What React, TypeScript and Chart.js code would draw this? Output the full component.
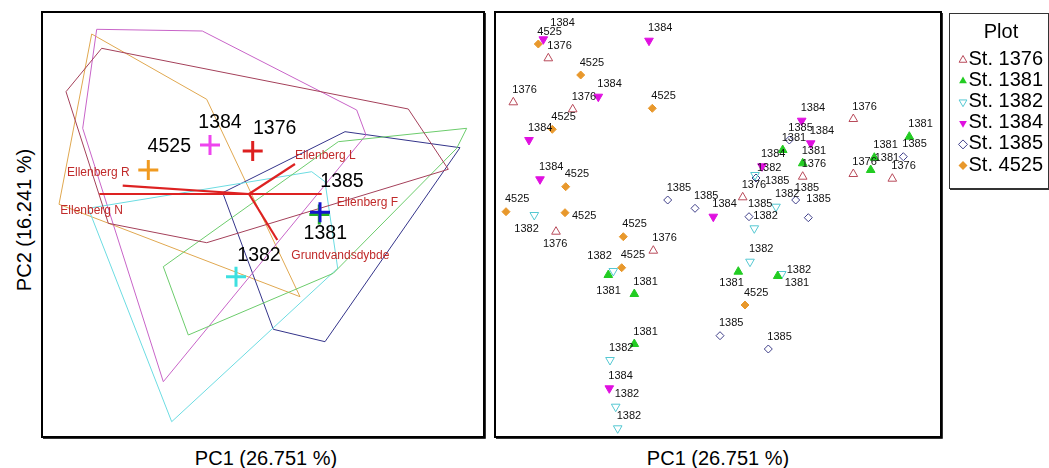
import React, { useEffect, useRef } from "react";
import { Chart, registerables } from "chart.js";
Chart.register(...registerables);

const FONT = "'Liberation Sans', Arial, Helvetica, sans-serif";

const plotNames = ["1376", "1381", "1382", "1384", "1385", "4525"];

// ---- Left panel: convex hulls of each plot (PC1, PC2) ----
const hull1376 = [[-1.473, 1.457], [1.593, 0.85], [1.993, 0.247], [-0.423, -0.487], [-1.407, -0.293], [-1.83, 1.023]];
const hull1381 = [[2.177, 0.657], [0.893, 0.523], [-0.857, -0.727], [-0.607, -1.41], [0.843, -0.793], [2.077, 0.457]];
const hull1382 = [[0.627, 0.223], [0.76, 0.123], [0.887, -0.743], [-0.773, -2.277], [-1.607, -0.143]];
const hull1384 = [[-1.523, 1.647], [-0.467, 1.63], [1.077, 0.84], [1.17, 0.59], [-0.857, -1.877], [-1.663, 0.657]];
const hull1385 = [[0.96, 0.623], [2.11, 0.463], [0.76, -1.477], [0.243, -1.353], [-0.263, 0.013]];
const hull4525 = [[-1.573, 1.6], [-0.423, 0.947], [0.51, -1.027], [-1.9, -0.103]];

// plot centroids
const centroidX = [0.037, 0.703, -0.13, -0.39, 0.71, -1.007];
const centroidY = [0.43, -0.205, -0.827, 0.49, -0.183, 0.24];

// environmental vectors
const envNames = ["Ellenberg L", "Ellenberg R", "Ellenberg N", "Ellenberg F", "Grundvandsdybde"];
const envX = [0.46, -1.263, -1.497, 0.727, 0.283];
const envY = [0.3, 0.083, 0, 0, -0.46];

// ---- Right panel: sample scores ----
const st1376 = [[-1.697, 1.657], [-2.047, 1.217], [-1.453, 1.147], [0.247, 0.267], [-1.62, -0.077], [-0.647, -0.267], [1.353, 1.05], [0.847, 0.473], [1.353, 0.5], [1.743, 0.453]];
const st1381 = [[0.647, 0.74], [0.847, 0.607], [1.913, 0.873], [1.563, 0.663], [1.527, 0.54], [-1.097, -0.51], [-0.837, -0.7], [0.203, -0.477], [0.597, -0.52], [-0.837, -1.2]];
const st1382 = [[-1.837, 0.09], [0.37, 0.49], [0.58, 0.173], [0.363, -0.043], [-1.047, -0.47], [0.32, -0.377], [0.637, -0.5], [-1.08, -1.36], [-1.023, -1.827], [-1.003, -2.043]];
const st1384 = [[-1.747, 1.847], [-0.69, 1.833], [-1.197, 1.273], [-1.89, 0.84], [-1.78, 0.447], [-0.047, 0.073], [0.837, 1.033], [0.927, 0.807], [0.44, 0.577], [-1.087, -1.643]];
const st1385 = [[-0.503, 0.24], [-0.23, 0.157], [0.31, 0.073], [0.38, 0.46], [0.713, 0.84], [1.853, 0.673], [0.777, 0.24], [0.903, 0.063], [0.02, -1.117], [0.503, -1.25]];
const st4525 = [[-1.797, 1.8], [-1.373, 1.49], [-0.657, 1.157], [-1.657, 0.947], [-1.523, 0.373], [-2.12, 0.123], [-1.53, 0.113], [-0.947, -0.127], [-0.963, -0.437], [0.27, -0.81]];

const hulls = [hull1376, hull1381, hull1382, hull1384, hull1385, hull4525];
const samples = [st1376, st1381, st1382, st1384, st1385, st4525];

// ---- styles ----
const hullColors = ["#a4405a", "#6ccc6c", "#6cdce2", "#c864c8", "#34348a", "#e0a850"];
const crossColors = ["#dd2020", "#22b022", "#3ee0e0", "#ee44ee", "#1414cc", "#f09a20"];
const markerColors = ["#b84a5a", "#22cc22", "#55c8d2", "#e010e0", "#40408a", "#e8982c"];
const markerFilled = [false, true, false, true, false, true];
const markerStyles = ["triangle", "triangle", "triangle", "triangle", "rectRot", "rectRot"];
const markerRotation = [0, 0, 180, 180, 0, 0];
const markerRadius = [5, 5, 5, 5, 4, 4];
const arrowColor = "#dd2222";
const envLabelColor = "#c02a2a";

// label placement (pixels) for centroid labels, env labels and sample labels
const centroidLabelOffsets = [[22, -22], [6, 19], [23, -21], [10, -22], [22, -31], [21, -23]];
const envLabelOffsets = [[0, -8, "left"], [7, -13, "right"], [-39, 17, "left"], [15, 9, "left"], [14, 16, "left"]];
const sampleLabelOffsets: Record<string, number[]> = {
  "1382:0": [-20, 14], "1376:4": [-13, 12.5], "1382:4": [-26, -15], "1381:5": [-12, 16],
  "1381:7": [-19, 11], "4525:6": [7, 3], "1385:3": [9, 3], "1382:1": [2, -7],
  "1382:6": [5, -4], "1381:8": [7, 7], "1384:0": [7, -16.5], "1381:4": [4, -12], "1385:7": [-2, -19],
};

const borderPlugin = {
  id: "panelBorder",
  afterDraw(chart: any) {
    const { left, top, right, bottom } = chart.chartArea;
    const ctx = chart.ctx;
    ctx.save();
    ctx.strokeStyle = "#000";
    ctx.lineWidth = 2;
    ctx.strokeRect(left, top, right - left, bottom - top);
    ctx.strokeStyle = "#333";
    ctx.lineWidth = 1;
    ctx.beginPath();
    ctx.moveTo(right + 1.5, top + 1);
    ctx.lineTo(right + 1.5, bottom + 1.5);
    ctx.lineTo(left + 1, bottom + 1.5);
    ctx.stroke();
    ctx.restore();
  },
};

function drawMarker(ctx: CanvasRenderingContext2D, i: number, x: number, y: number, r: number) {
  ctx.beginPath();
  if (markerStyles[i] === "triangle") {
    const s = markerRotation[i] === 180 ? -1 : 1;
    for (let k = 0; k < 3; k++) {
      const a = (k * 2 * Math.PI) / 3;
      const px = x + Math.sin(a) * r;
      const py = y - s * Math.cos(a) * r;
      if (k === 0) ctx.moveTo(px, py);
      else ctx.lineTo(px, py);
    }
  } else {
    ctx.moveTo(x, y - r);
    ctx.lineTo(x + r, y);
    ctx.lineTo(x, y + r);
    ctx.lineTo(x - r, y);
  }
  ctx.closePath();
  if (markerFilled[i]) {
    ctx.fillStyle = markerColors[i];
    ctx.fill();
  } else {
    ctx.strokeStyle = markerColors[i];
    ctx.lineWidth = 1;
    ctx.stroke();
  }
}

const leftLabelPlugin = {
  id: "leftLabels",
  afterDatasetsDraw(chart: any) {
    const ctx = chart.ctx;
    const sx = chart.scales.x;
    const sy = chart.scales.y;
    ctx.save();
    ctx.textBaseline = "middle";
    ctx.font = `12px ${FONT}`;
    ctx.fillStyle = envLabelColor;
    envNames.forEach((n, i) => {
      const o = envLabelOffsets[i];
      ctx.textAlign = o[2] as CanvasTextAlign;
      ctx.fillText(n, sx.getPixelForValue(envX[i]) + (o[0] as number), sy.getPixelForValue(envY[i]) + (o[1] as number));
    });
    ctx.font = `19.5px ${FONT}`;
    ctx.fillStyle = "#000";
    ctx.textAlign = "center";
    plotNames.forEach((n, i) => {
      const o = centroidLabelOffsets[i];
      ctx.fillText(n, sx.getPixelForValue(centroidX[i]) + o[0], sy.getPixelForValue(centroidY[i]) + o[1]);
    });
    ctx.restore();
  },
};

const rightLabelPlugin = {
  id: "rightLabels",
  afterDatasetsDraw(chart: any) {
    const ctx = chart.ctx;
    ctx.save();
    ctx.font = `11px ${FONT}`;
    ctx.fillStyle = "#111";
    ctx.textBaseline = "middle";
    ctx.textAlign = "left";
    chart.data.datasets.forEach((_ds: any, i: number) => {
      const meta = chart.getDatasetMeta(i);
      meta.data.forEach((el: any, j: number) => {
        const o = sampleLabelOffsets[`${plotNames[i]}:${j}`] || [-1, -12.5];
        ctx.fillText(plotNames[i], el.x + o[0], el.y + o[1]);
      });
    });
    ctx.restore();
  },
  afterDraw(chart: any) {
    const ctx = chart.ctx;
    const ca = chart.chartArea;
    const lx = ca.right + 8;
    const ly = ca.top + 1;
    ctx.save();
    ctx.strokeStyle = "#333";
    ctx.lineWidth = 1;
    ctx.strokeRect(lx + 0.5, ly + 0.5, 99, 175);
    ctx.beginPath();
    ctx.moveTo(lx + 1, ly + 176.5);
    ctx.lineTo(lx + 100, ly + 176.5);
    ctx.stroke();
    ctx.fillStyle = "#000";
    ctx.textBaseline = "middle";
    ctx.textAlign = "center";
    ctx.font = `20px ${FONT}`;
    ctx.fillText("Plot", lx + 52, ly + 19);
    ctx.textAlign = "left";
    plotNames.forEach((n, i) => {
      const y = ly + 46.5 + i * 21.1;
      drawMarker(ctx, i, lx + 14, y + 0.5, 4.5);
      ctx.fillStyle = "#000";
      ctx.fillText("St. " + n, lx + 19.5, y);
    });
    ctx.restore();
  },
};

const toXY = (arr: number[][]) => arr.map((p) => ({ x: p[0], y: p[1] }));

export default function App() {
  const leftRef = useRef<HTMLCanvasElement>(null);
  const rightRef = useRef<HTMLCanvasElement>(null);

  useEffect(() => {
    const leftDatasets: any[] = [];
    leftDatasets.push({
      label: "centroids",
      data: centroidX.map((x, i) => ({ x, y: centroidY[i] })),
      pointStyle: "cross",
      pointRadius: 10,
      pointBorderWidth: 3,
      pointBorderColor: crossColors,
      pointBackgroundColor: crossColors,
      showLine: false,
      clip: false,
      order: 0,
    });
    envNames.forEach((n, i) => {
      leftDatasets.push({
        label: n,
        data: [{ x: 0, y: 0 }, { x: envX[i], y: envY[i] }],
        showLine: true,
        borderColor: arrowColor,
        borderWidth: 2.2,
        pointRadius: 0,
        fill: false,
        order: 1,
      });
    });
    hulls.forEach((h, i) => {
      leftDatasets.push({
        label: "hull " + plotNames[i],
        data: toXY([...h, h[0]]),
        showLine: true,
        borderColor: hullColors[i],
        borderWidth: 1,
        pointRadius: 0,
        fill: false,
        tension: 0,
        order: 2,
      });
    });

    const left = new Chart(leftRef.current as HTMLCanvasElement, {
      type: "scatter",
      data: { datasets: leftDatasets },
      options: {
        responsive: false,
        maintainAspectRatio: false,
        animation: false,
        events: [],
        layout: { autoPadding: false, padding: { left: 6, top: 6, right: 6, bottom: 6 } },
        scales: {
          x: { type: "linear", min: -2.07, max: 2.35, display: false },
          y: { type: "linear", min: -2.43, max: 1.82, display: false },
        },
        plugins: { legend: { display: false }, tooltip: { enabled: false } },
      },
      plugins: [borderPlugin, leftLabelPlugin],
    } as any);

    const right = new Chart(rightRef.current as HTMLCanvasElement, {
      type: "scatter",
      data: {
        datasets: samples.map((s, i) => ({
          label: "St. " + plotNames[i],
          data: toXY(s),
          pointStyle: markerStyles[i],
          rotation: markerRotation[i],
          pointRadius: markerRadius[i],
          pointBorderWidth: 1,
          pointBorderColor: markerColors[i],
          pointBackgroundColor: markerFilled[i] ? markerColors[i] : "rgba(0,0,0,0)",
          showLine: false,
          clip: false,
        })),
      },
      options: {
        responsive: false,
        maintainAspectRatio: false,
        animation: false,
        events: [],
        layout: { autoPadding: false, padding: { left: 6, top: 6, right: 108, bottom: 6 } },
        scales: {
          x: { type: "linear", min: -2.23, max: 2.23, display: false },
          y: { type: "linear", min: -2.13, max: 2.12, display: false },
        },
        plugins: { legend: { display: false }, tooltip: { enabled: false } },
      },
      plugins: [borderPlugin, rightLabelPlugin],
    } as any);

    return () => {
      left.destroy();
      right.destroy();
    };
  }, []);

  const title: React.CSSProperties = {
    position: "absolute",
    fontSize: 20,
    whiteSpace: "nowrap",
    color: "#000",
    transform: "translate(-50%, -50%)",
    lineHeight: 1,
  };

  return (
    <div
      style={{
        position: "absolute",
        left: 0,
        top: 0,
        width: 1049,
        height: 468,
        background: "#fff",
        overflow: "hidden",
        fontFamily: FONT,
      }}
    >
      <canvas ref={leftRef} width={454} height={437} style={{ position: "absolute", left: 36, top: 6, width: 454, height: 437 }} />
      <canvas ref={rightRef} width={560} height={437} style={{ position: "absolute", left: 489, top: 6, width: 560, height: 437 }} />
      <div style={{ ...title, left: 266, top: 458 }}>PC1 (26.751 %)</div>
      <div style={{ ...title, left: 718, top: 458 }}>PC1 (26.751 %)</div>
      <div style={{ ...title, left: 24, top: 220, transform: "translate(-50%, -50%) rotate(-90deg)" }}>PC2 (16.241 %)</div>
    </div>
  );
}
